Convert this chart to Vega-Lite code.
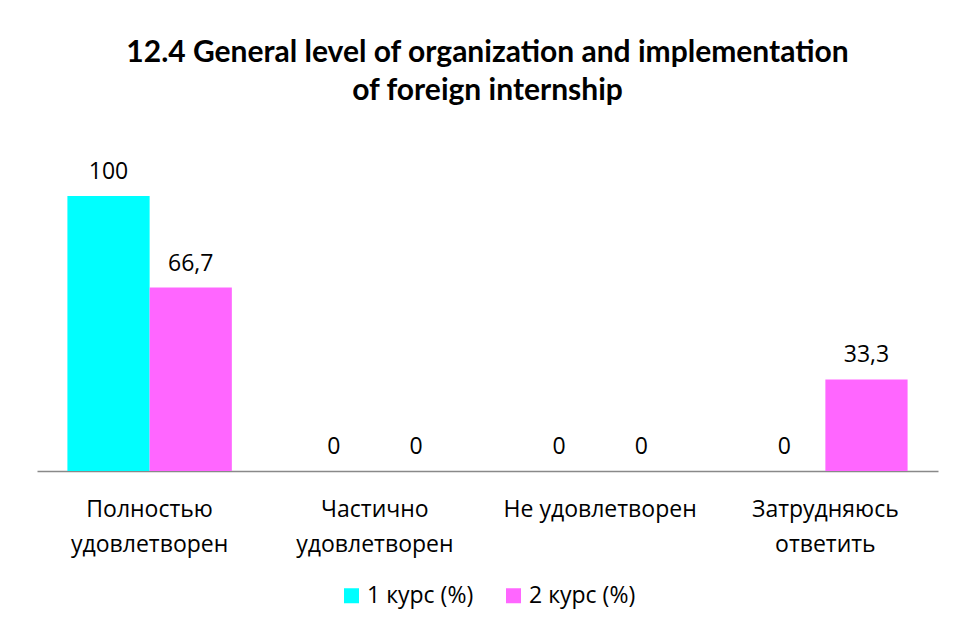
{
  "$schema": "https://vega.github.io/schema/vega-lite/v6.json",
  "width": 901,
  "height": 275,
  "autosize": "none",
  "padding": {"left": 37, "top": 196, "right": 15, "bottom": 155},
  "background": "white",
  "config": {
    "view": {"stroke": null},
    "legend": {"layout": {"bottom": {"anchor": "middle"}}},
    "locale": {"number": {"decimal": ",", "thousands": " ", "grouping": [3], "currency": ["", ""]}}
  },
  "title": {
    "text": ["12.4 General level of organization and implementation", "of foreign internship"],
    "font": "Lato",
    "fontSize": 30,
    "fontWeight": "bold",
    "lineHeight": 38,
    "anchor": "middle",
    "color": "black",
    "offset": 55
  },
  "data": {
    "values": [
      {"category": "Полностью удовлетворен", "series": "1 курс (%)", "value": 100},
      {"category": "Полностью удовлетворен", "series": "2 курс (%)", "value": 66.7},
      {"category": "Частично удовлетворен", "series": "1 курс (%)", "value": 0},
      {"category": "Частично удовлетворен", "series": "2 курс (%)", "value": 0},
      {"category": "Не удовлетворен", "series": "1 курс (%)", "value": 0},
      {"category": "Не удовлетворен", "series": "2 курс (%)", "value": 0},
      {"category": "Затрудняюсь ответить", "series": "1 курс (%)", "value": 0},
      {"category": "Затрудняюсь ответить", "series": "2 курс (%)", "value": 33.3}
    ]
  },
  "encoding": {
    "x": {
      "field": "category",
      "type": "nominal",
      "sort": null,
      "scale": {"paddingInner": 0.27, "paddingOuter": 0.135},
      "axis": {
        "title": null,
        "labelAngle": 0,
        "labelFont": "Open Sans",
        "labelFontSize": 23,
        "labelColor": "black",
        "labelLineHeight": 35,
        "labelPadding": 27,
        "labelLimit": 0,
        "labelExpr": "datum.value == 'Не удовлетворен' ? datum.value : split(datum.value, ' ')",
        "ticks": false,
        "domainColor": "#898989",
        "domainWidth": 1.5
      }
    },
    "xOffset": {"field": "series", "type": "nominal", "sort": ["1 курс (%)", "2 курс (%)"], "scale": {"paddingInner": 0, "paddingOuter": 0}},
    "y": {"field": "value", "type": "quantitative", "scale": {"domain": [0, 100]}, "axis": null}
  },
  "layer": [
    {
      "mark": {"type": "bar"},
      "encoding": {
        "color": {
          "field": "series",
          "type": "nominal",
          "sort": ["1 курс (%)", "2 курс (%)"],
          "scale": {"range": ["#00FFFF", "#FF66FF"]},
          "legend": {
            "orient": "bottom",
            "direction": "horizontal",
            "title": null,
            "symbolType": "square",
            "symbolSize": 225,
            "symbolStrokeWidth": 0,
            "labelFont": "Open Sans",
            "labelFontSize": 23,
            "labelColor": "black",
            "columnPadding": 28,
            "offset": 28
          }
        }
      }
    },
    {
      "mark": {"type": "text", "baseline": "alphabetic", "dy": -17, "font": "Open Sans", "fontSize": 23, "color": "black", "clip": false},
      "encoding": {
        "text": {"field": "value", "type": "quantitative", "format": ".3~g"}
      }
    }
  ]
}
